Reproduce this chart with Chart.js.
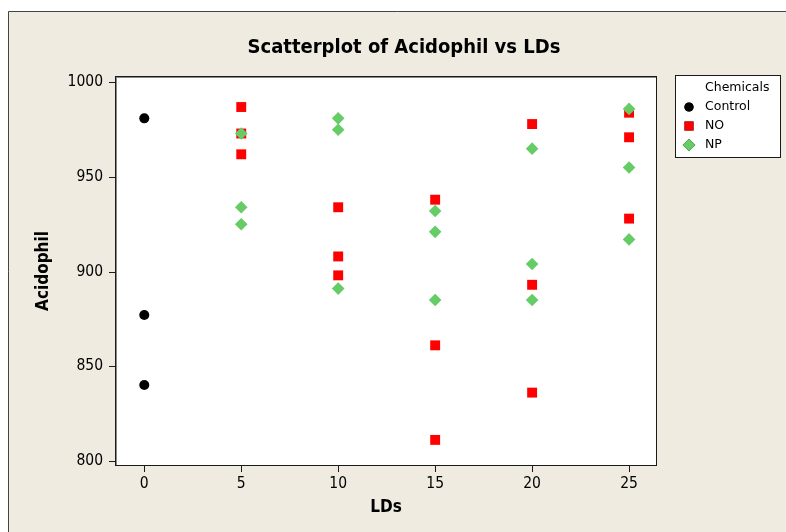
<!DOCTYPE html>
<html>
<head>
<meta charset="utf-8">
<title>Scatterplot of Acidophil vs LDs</title>
<script src="https://cdn.jsdelivr.net/npm/chart.js@4.4.1/dist/chart.umd.min.js"></script>
<style>
  html, body { margin: 0; padding: 0; background: #ffffff; }
  #wrap { width: 786px; height: 532px; }
</style>
</head>
<body>
<div id="wrap"><canvas id="chart" width="786" height="532"></canvas></div>
<script>
// LDs level for each observation, and the Acidophil readings per chemical
const controlLDs = [0, 0, 0];
const controlAcidophil = [981, 877, 840];

const noLDs = [5, 5, 5, 10, 10, 10, 15, 15, 15, 20, 20, 20, 25, 25, 25];
const noAcidophil = [987, 973, 962, 934, 908, 898, 938, 861, 811, 978, 893, 836, 984, 971, 928];

const npLDs = [5, 5, 5, 10, 10, 10, 15, 15, 15, 20, 20, 20, 25, 25, 25];
const npAcidophil = [973, 934, 925, 981, 975, 891, 932, 921, 885, 965, 904, 885, 986, 955, 917];

const xTicks = [0, 5, 10, 15, 20, 25];
const yTicks = [800, 850, 900, 950, 1000];

const seriesNames = ['Control', 'NO', 'NP'];
const legendTitle = 'Chemicals';

const toPoints = (xs, ys) => ys.map((y, i) => ({ x: xs[i], y: y }));

const PAGE_BG = '#efebe1';
const FONT_COND = "'DejaVu Sans Condensed', 'DejaVu Sans', sans-serif";
const FONT_REG = "'DejaVu Sans', sans-serif";
const TICK_LEN = 6;

// Frame, page background, tick marks, title and legend
const decorations = {
  id: 'decorations',
  beforeDraw(chart) {
    const { ctx, chartArea: a } = chart;
    ctx.save();
    ctx.fillStyle = '#ffffff';
    ctx.fillRect(0, 0, chart.width, chart.height);
    ctx.fillStyle = PAGE_BG;
    ctx.fillRect(8, 11, chart.width - 8, chart.height - 11);
    ctx.strokeStyle = '#444444';
    ctx.lineWidth = 1;
    ctx.beginPath();
    ctx.moveTo(8.5, chart.height);
    ctx.lineTo(8.5, 11.5);
    ctx.lineTo(chart.width, 11.5);
    ctx.stroke();
    ctx.fillStyle = '#ffffff';
    ctx.fillRect(a.left, a.top, a.right - a.left, a.bottom - a.top);

    ctx.fillStyle = '#000000';
    ctx.font = "bold 20px " + FONT_COND;
    ctx.textAlign = 'center';
    ctx.textBaseline = 'middle';
    ctx.fillText('Scatterplot of Acidophil vs LDs', 404, 48);
    ctx.restore();
  },
  afterDraw(chart) {
    const { ctx, chartArea: a, scales } = chart;
    ctx.save();
    // plot frame
    ctx.lineWidth = 1;
    ctx.strokeStyle = '#8a8a8a';
    ctx.strokeRect(a.left + 1.5, a.top + 1.5, a.right - a.left - 2, a.bottom - a.top - 2);
    ctx.strokeStyle = '#1a1a1a';
    ctx.strokeRect(a.left + 0.5, a.top + 0.5, a.right - a.left - 1, a.bottom - a.top - 1);

    // outward tick marks at each labelled value
    ctx.strokeStyle = '#1a1a1a';
    ctx.beginPath();
    yTicks.forEach(v => {
      const py = Math.round(scales.y.getPixelForValue(v)) + 0.5;
      ctx.moveTo(a.left - TICK_LEN, py);
      ctx.lineTo(a.left + 1, py);
    });
    xTicks.forEach(v => {
      const px = Math.round(scales.x.getPixelForValue(v)) + 0.5;
      ctx.moveTo(px, a.bottom - 1);
      ctx.lineTo(px, a.bottom + TICK_LEN);
    });
    ctx.stroke();

    // legend box
    const lx = 675.5, ly = 75.5, lw = 105, lh = 82;
    ctx.fillStyle = '#ffffff';
    ctx.fillRect(lx, ly, lw, lh);
    ctx.strokeStyle = '#1a1a1a';
    ctx.strokeRect(lx, ly, lw, lh);
    ctx.fillStyle = '#000000';
    ctx.font = "12.5px " + FONT_REG;
    ctx.textAlign = 'left';
    ctx.textBaseline = 'middle';
    ctx.fillText(legendTitle, 705, 88);
    const rows = [107, 126, 145];
    chart.data.datasets.forEach((ds, i) => {
      const y = rows[i];
      Chart.helpers.drawPoint(ctx, {
        pointStyle: ds.pointStyle,
        radius: ds.legendRadius,
        borderWidth: 0
      }, 689, y);
      ctx.fillStyle = ds.backgroundColor;
      ctx.fill();
      ctx.fillStyle = '#000000';
      ctx.fillText(ds.label, 705, y);
    });
    ctx.restore();
  }
};

const tickFont = { family: FONT_COND, size: 15.5 };
const titleFont = { family: FONT_COND, size: 17, weight: 'bold' };
const gridOpts = { drawOnChartArea: false, drawTicks: false, tickLength: TICK_LEN };

new Chart(document.getElementById('chart'), {
  type: 'scatter',
  data: {
    datasets: [
      {
        label: seriesNames[0],
        data: toPoints(controlLDs, controlAcidophil),
        pointStyle: 'circle',
        pointRadius: 5,
        legendRadius: 4.6,
        backgroundColor: '#000000',
        borderColor: '#000000',
        borderWidth: 0,
        order: 2
      },
      {
        label: seriesNames[1],
        data: toPoints(noLDs, noAcidophil),
        pointStyle: 'rect',
        pointRadius: 7,
        legendRadius: 6.4,
        backgroundColor: '#ff0000',
        borderColor: '#ff0000',
        borderWidth: 0,
        order: 1
      },
      {
        label: seriesNames[2],
        data: toPoints(npLDs, npAcidophil),
        pointStyle: 'rectRot',
        pointRadius: 6.3,
        legendRadius: 6.3,
        backgroundColor: '#66cc66',
        borderColor: '#66cc66',
        borderWidth: 0,
        order: 0
      }
    ]
  },
  options: {
    responsive: false,
    animation: false,
    events: [],
    layout: { padding: { top: 76, right: 129, left: 0, bottom: 0 } },
    plugins: {
      legend: { display: false },
      title: { display: false },
      tooltip: { enabled: false }
    },
    scales: {
      x: {
        type: 'linear',
        min: -1.51,
        max: 26.44,
        afterBuildTicks: s => { s.ticks = xTicks.map(v => ({ value: v })); },
        afterFit: s => { s.height = 66; },
        grid: gridOpts,
        border: { display: false },
        ticks: { color: '#000000', font: tickFont, padding: 9, maxRotation: 0, callback: v => String(v) },
        title: { display: true, text: 'LDs', color: '#000000', font: titleFont, padding: { top: 0, bottom: 14 } }
      },
      y: {
        type: 'linear',
        min: 797.2,
        max: 1003.4,
        afterBuildTicks: s => { s.ticks = yTicks.map(v => ({ value: v })); },
        afterFit: s => { s.width = 115; },
        grid: gridOpts,
        border: { display: false },
        ticks: { color: '#000000', font: tickFont, padding: 12, callback: v => String(v) },
        title: { display: true, text: 'Acidophil', color: '#000000', font: titleFont, padding: { top: 33, bottom: 0 } }
      }
    }
  },
  plugins: [decorations]
});
</script>
</body>
</html>
